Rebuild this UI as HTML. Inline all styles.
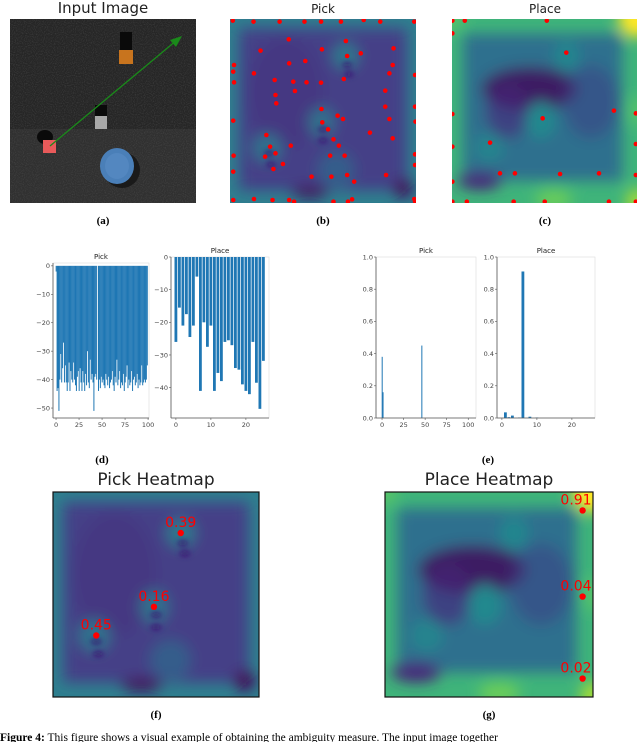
<!DOCTYPE html>
<html><head><meta charset="utf-8">
<style>
html,body{margin:0;padding:0;background:#fff;}
svg{display:block;}
.tk{font-family:"DejaVu Sans","Liberation Sans",sans-serif;font-size:6.5px;fill:#444;}
.ttl{font-family:"DejaVu Sans","Liberation Sans",sans-serif;fill:#222;}
.lab{font-family:"Liberation Serif",serif;font-weight:bold;font-size:11px;fill:#000;}
.val{font-family:"DejaVu Sans","Liberation Sans",sans-serif;font-size:14px;fill:#f00;}
</style></head>
<body>
<svg id="fig" width="640" height="742" viewBox="0 0 640 742" xmlns="http://www.w3.org/2000/svg">
<defs>
<filter id="bl" x="-20%" y="-20%" width="140%" height="140%"><feGaussianBlur stdDeviation="7"/></filter>
<filter id="bl2" x="-20%" y="-20%" width="140%" height="140%"><feGaussianBlur stdDeviation="3"/></filter>
<filter id="nz"><feTurbulence type="fractalNoise" baseFrequency="0.9" numOctaves="1" seed="3"/><feColorMatrix values="0 0 0 0 0.1 0 0 0 0 0.1 0 0 0 0 0.1 0 0 0 -2.2 1.25"/></filter>
<clipPath id="cA"><rect x="10" y="19" width="186" height="184"/></clipPath>
</defs>

<text class="ttl" x="103" y="13" font-size="15" text-anchor="middle">Input Image</text>
<g clip-path="url(#cA)">
<rect x="10" y="19" width="186" height="184" fill="#303030"/>
<rect x="10" y="19" width="186" height="110" fill="#262626"/>
<rect x="10" y="19" width="186" height="184" filter="url(#nz)" opacity="0.5"/>
<rect x="120" y="32" width="12" height="18" fill="#0a0a0a"/>
<rect x="119" y="50" width="14" height="14" fill="#c8741e"/>
<rect x="95" y="105" width="12" height="12" fill="#0a0a0a"/>
<rect x="95" y="116" width="12" height="13" fill="#a8a8a8"/>
<ellipse cx="45" cy="137" rx="8" ry="7" fill="#0a0a0a"/>
<rect x="43" y="140" width="13" height="13" fill="#e85a5a"/>
<ellipse cx="122" cy="170" rx="18" ry="18" fill="#1a1a1a"/>
<ellipse cx="117" cy="166" rx="17" ry="18" fill="#4a7fb8"/>
<ellipse cx="117" cy="166" rx="12" ry="13" fill="#5a8cc4" opacity="0.6"/>
<line x1="50" y1="146" x2="177" y2="40" stroke="#1a8a1a" stroke-width="1.3"/>
<polygon points="182,36 170,40 176,47" fill="#1a8a1a"/>
</g>
<text class="lab" x="103" y="224" text-anchor="middle">(a)</text>

<text class="ttl" x="323" y="13" font-size="12" text-anchor="middle">Pick</text>
<text class="ttl" x="545" y="13" font-size="12" text-anchor="middle">Place</text>
<g id="pickTop"></g>
<g id="placeTop"></g>
<text class="lab" x="323" y="224" text-anchor="middle">(b)</text>
<text class="lab" x="545" y="224" text-anchor="middle">(c)</text>

<g id="charts"></g>
<text class="lab" x="102" y="463" text-anchor="middle">(d)</text>
<text class="lab" x="488" y="463" text-anchor="middle">(e)</text>

<text class="ttl" x="156" y="485" font-size="17" text-anchor="middle">Pick Heatmap</text>
<text class="ttl" x="489" y="485" font-size="17" text-anchor="middle">Place Heatmap</text>
<g id="pickBig"></g>
<g id="placeBig"></g>
<text class="lab" x="156" y="718" text-anchor="middle">(f)</text>
<text class="lab" x="489" y="718" text-anchor="middle">(g)</text>

<text x="0" y="741" font-family="Liberation Serif, serif" font-size="11.5" fill="#000"><tspan font-weight="bold">Figure 4:</tspan> This figure shows a visual example of obtaining the ambiguity measure. The input image together</text>
</svg>
<script>
// ---- data ----
const pickLogCats = Array.from({length:100},(_,i)=>i);
const pickLogVals = [-2,-44,-43,-51,-40,-31,-41,-36,-27,-41,-35,-41,-44,-41,-34,-44,-37,-40,-41,-34,-40,-42,-44,-39,-37,-44,-36,-41,-44,-37,-41,-44,-38,-42,-30,-41,-43,-33,-40,-38,-41,-51,-39,-38,-40,0,-44,-40,-43,-39,-41,-40,-42,-43,-38,-40,-42,-39,-43,-41,-40,-37,-42,-44,-39,-41,-33,-42,-40,-37,-43,-41,-42,-38,-44,-41,-39,-35,-43,-40,-42,-41,-37,-44,-40,-39,-42,-41,-38,-43,-40,-42,-41,-35,-42,-41,-40,-41,-40,-35];
const placeLogCats = Array.from({length:26},(_,i)=>i);
const placeLogVals = [-26,-15.5,-21,-17.5,-24.5,-21,-6,-41,-20,-27.5,-21,-41,-35.5,-38,-26,-25.5,-27,-34,-34.5,-39,-41,-42,-26,-38.5,-46.5,-31.8];
const pickProbCats = [0,1,46];
const pickProbVals = [0.38,0.16,0.45];
const placeProbCats = [1,2,3,5,6,8,10];
const placeProbVals = [0.035,0.005,0.015,0.003,0.91,0.008,0.003];
const logTicks = [0,-10,-20,-30,-40,-50];
const probTicks = [0,0.2,0.4,0.6,0.8,1.0];
const probTickLabels = ["0.0","0.2","0.4","0.6","0.8","1.0"];
const pickXTicks = [0,25,50,75,100];
const placeXTicks = [0,10,20];
const pickPeaks = [[0.62,0.2,"0.39"],[0.49,0.56,"0.16"],[0.21,0.7,"0.45"]];
const placePeaks = [[0.95,0.09,"0.91"],[0.95,0.51,"0.04"],[0.95,0.91,"0.02"]];

const NS="http://www.w3.org/2000/svg";
function mk(p,tag,at){const e=document.createElementNS(NS,tag);for(const k in at)e.setAttribute(k,at[k]);p.appendChild(e);return e;}
const charts=document.getElementById('charts');

function axes(name,x0,x1,y0,y1,xmin,xmax,ymin,ymax,cats,vals,xt,yt,ytl,title,color){
  const g=mk(charts,'g',{});
  
  
  const sx=v=>x0+(v-xmin)/(xmax-xmin)*(x1-x0);
  const sy=v=>y1-(v-ymin)/(ymax-ymin)*(y1-y0);
  mk(g,'rect',{x:x0,y:y0,width:x1-x0,height:y1-y0,fill:'#fff',stroke:'#ddd','stroke-width':0.6});
  cats.forEach((c,i)=>{
    const a=sy(0),b=sy(vals[i]);
    const r=mk(g,'rect',{x:sx(c-0.4),y:Math.min(a,b),width:Math.max(1,sx(c+0.4)-sx(c-0.4)),height:Math.abs(b-a),fill:color||'#1f77b4'});
    
    
  });
  mk(g,'line',{x1:x0,y1:y0,x2:x0,y2:y1,stroke:'#555','stroke-width':0.8});
  mk(g,'line',{x1:x0,y1:y1,x2:x1,y2:y1,stroke:'#555','stroke-width':0.8});
  xt.forEach(t=>{mk(g,'line',{x1:sx(t),y1:y1,x2:sx(t),y2:y1+2,stroke:'#555','stroke-width':0.6});
    const tx=mk(g,'text',{x:sx(t),y:y1+9,'text-anchor':'middle',class:'tk'});tx.textContent=t;
    
    });
  yt.forEach((t,i)=>{mk(g,'line',{x1:x0-2,y1:sy(t),x2:x0,y2:sy(t),stroke:'#555','stroke-width':0.6});
    const tx=mk(g,'text',{x:x0-3,y:sy(t)+2.3,'text-anchor':'end',class:'tk'});tx.textContent=ytl?ytl[i]:(t<0?'\u2212'+(-t):t);
    
    });
  const tt=mk(g,'text',{x:(x0+x1)/2,y:y0-4,'text-anchor':'middle',class:'ttl','font-size':7});tt.textContent=title;
  
  
}
axes('pick-log-chart',53,149,263,418,-3.3,101,-53.5,1,pickLogCats,pickLogVals,pickXTicks,logTicks,null,'Pick');
axes('place-log-chart',171,269,257,418,-1.4,26.6,-49.3,0,placeLogCats,placeLogVals,placeXTicks,logTicks.slice(0,5),null,'Place');
axes('pick-prob-chart',376,476,257,418,-7,109,0,1,pickProbCats,pickProbVals,pickXTicks,probTicks,probTickLabels,'Pick');
axes('place-prob-chart',497,595,257,418,-1.4,26.6,0,1,placeProbCats,placeProbVals,placeXTicks,probTicks,probTickLabels,'Place');

let hid=0;
function heat(gid,X,Y,W,H,kind,dots,peaks,border){
  const g=document.getElementById(gid);
  const cid='hc'+(hid++);
  const cp=mk(g,'clipPath',{id:cid});mk(cp,'rect',{x:X,y:Y,width:W,height:H});
  const c=mk(g,'g',{'clip-path':'url(#'+cid+')'});
  const px=u=>X+u*W, py=v=>Y+v*H;
  if(kind==='pick'){
    mk(c,'rect',{x:X,y:Y,width:W,height:H,fill:'#2e7f8e'});
    const b=mk(c,'g',{filter:'url(#bl)'});
    mk(b,'rect',{x:px(0.05),y:py(0.05),width:W*0.9,height:H*0.88,fill:'#443f87'});
    const bb=(u,v,ru,rv,col,op)=>mk(b,'ellipse',{cx:px(u),cy:py(v),rx:ru*W,ry:rv*H,fill:col,opacity:op});
    bb(0.3,0.4,0.2,0.3,'#46307e',0.5);
    bb(0.62,0.2,0.07,0.07,'#2a7e8e',0.9);bb(0.49,0.56,0.07,0.08,'#2a7e8e',0.8);bb(0.2,0.7,0.08,0.08,'#2a7e8e',0.8);
    bb(0.57,0.82,0.1,0.1,'#2d718e',0.6);
    bb(0.43,0.94,0.1,0.03,'#440154',1);bb(0.93,0.92,0.05,0.05,'#440154',1);
    const s=mk(c,'g',{filter:'url(#bl2)'});
    [[0.63,0.25],[0.64,0.3],[0.5,0.6],[0.5,0.66],[0.21,0.73],[0.22,0.79]].forEach(p=>mk(s,'ellipse',{cx:px(p[0]),cy:py(p[1]),rx:W*0.025,ry:H*0.012,fill:'#3b0f70'}));
  } else {
    mk(c,'rect',{x:X,y:Y,width:W,height:H,fill:'#3fb47a'});
    const b=mk(c,'g',{filter:'url(#bl)'});
    mk(b,'rect',{x:px(0.06),y:py(0.08),width:W*0.86,height:H*0.8,fill:'#2f6f8e'});
    const bb=(u,v,ru,rv,col,op)=>mk(b,'ellipse',{cx:px(u),cy:py(v),rx:ru*W,ry:rv*H,fill:col,opacity:op});
    bb(0.42,0.38,0.26,0.12,'#440154',0.75);bb(0.3,0.5,0.12,0.15,'#46277a',0.6);bb(0.75,0.45,0.15,0.2,'#3e3d84',0.5);
    bb(0.62,0.2,0.07,0.08,'#24868e',1);bb(0.48,0.55,0.08,0.1,'#23898e',1);bb(0.2,0.7,0.08,0.08,'#26848e',1);
    bb(0.15,0.88,0.12,0.05,'#46257a',1);bb(0.55,0.98,0.1,0.05,'#6cce59',1);
    bb(1,0,0.1,0.1,'#fde725',1);bb(1,1,0.06,0.08,'#a0da39',1);bb(1,0.5,0.04,0.08,'#5ec962',0.8);
    bb(0,0,0.06,0.06,'#5ec962',0.8);
  }
  (dots||[]).forEach(d=>{const e=mk(c,'circle',{cx:px(d[0]),cy:py(d[1]),r:2.3,fill:'#f00'});
    
    });
  (peaks||[]).forEach(p=>{const e=mk(g,'circle',{cx:px(p[0]),cy:py(p[1]),r:3.2,fill:'#f00'});
    
    
    const t=mk(g,'text',{x:Math.min(px(p[0]),X+W-17),y:py(p[1])-6,'text-anchor':'middle',class:'val'});t.textContent=p[2];
    
    });
  if(border)mk(g,'rect',{x:X,y:Y,width:W,height:H,fill:'none',stroke:'#111','stroke-width':1.2});
}
const bz=[[562,62],[612,65],[675,65],[735,65],[775,65],[823,65],[878,60],[918,65],[1000,65],[697,118],[835,123],[629,152],[777,148],[950,145],[871,160],[838,168],[698,190],[737,183],[565,195],[948,195],[563,215],[613,220],[940,220],[1002,225],[565,247],[663,240],[708,245],[740,247],[775,248],[830,237],[712,273],[930,272],[665,285],[667,310],[930,320],[1002,320],[776,327],[815,347],[828,357],[940,357],[563,362],[1003,365],[778,367],[792,388],[893,398],[643,405],[948,415],[805,418],[652,440],[702,437],[818,437],[665,460],[640,470],[797,467],[832,467],[1002,463],[683,492],[564,467],[660,507],[1002,495],[838,525],[752,530],[800,530],[932,525],[563,515],[855,545],[563,600],[613,597],[658,600],[698,600],[710,605],[805,605],[840,605],[850,598],[1000,597],[1002,605]];
const cz=[[1092,62],[1122,62],[1320,62],[1092,100],[1367,158],[1310,355],[1482,332],[1092,342],[1535,340],[1183,428],[1092,440],[1535,432],[1207,520],[1243,520],[1352,522],[1446,520],[1535,525],[1092,545],[1092,605],[1127,605],[1240,605],[1315,605],[1470,605],[1535,605]];
const bDots=bz.map(p=>[(p[0]/2.414-230)/186,(p[1]/3-19)/184]);
const cDots=cz.map(p=>[(p[0]/2.414-452)/185,(p[1]/3-19)/184]);
heat('pickTop',230,19,186,184,'pick',bDots,null,false);
heat('placeTop',452,19,185,184,'place',cDots,null,false);
heat('pickBig',53,492,206,205,'pick',null,pickPeaks,true);
heat('placeBig',385,492,208,205,'place',null,placePeaks,true);
</script>
</body></html>
